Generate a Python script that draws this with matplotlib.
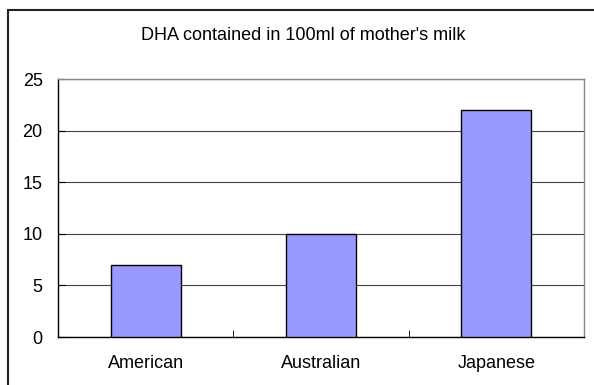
import matplotlib
matplotlib.use("Agg")
import matplotlib.pyplot as plt
from matplotlib.patches import Rectangle

categories = ["American", "Australian", "Japanese"]
values = [7, 10, 22]
yticks = [0, 5, 10, 15, 20, 25]
title = "DHA contained in 100ml of mother's milk"

W, H = 594, 385
plt.rcParams['font.family'] = ['Liberation Sans', 'DejaVu Sans']
fig = plt.figure(figsize=(W / 100, H / 100), dpi=100)

# outer chart border
fig.patches.append(Rectangle((8 / W, -0.05), 1.1, 1 - 10 / H + 0.05,
                             transform=fig.transFigure, fill=False,
                             edgecolor='#222222', linewidth=1.5))

ax = fig.add_axes([58 / W, 1 - 337 / H, (584 - 58) / W, (337 - 79) / H])
x = list(range(len(categories)))
ax.bar(x, values, width=0.4, color='#9999FF', edgecolor='black', linewidth=1.0, zorder=3)
ax.set_xlim(-0.5, len(categories) - 0.5)
ax.set_ylim(0, 25)
ax.set_yticks(yticks)
ax.yaxis.grid(True, color='#444444', linewidth=0.8, zorder=0)
ax.set_axisbelow(True)
ax.set_xticks(x)
ax.set_xticklabels(categories)
ax.set_xticks([0.5, 1.5], minor=True)
ax.tick_params(axis='x', which='major', length=0, pad=13, labelsize=13)
ax.tick_params(axis='x', which='minor', length=5, direction='in', color='black')
ax.tick_params(axis='y', length=5, direction='in', pad=11, labelsize=13)
for s in ['left', 'bottom']:
    ax.spines[s].set_color('black')
    ax.spines[s].set_linewidth(1.0)
for s in ['top', 'right']:
    ax.spines[s].set_color('#888888')
    ax.spines[s].set_linewidth(1.0)

fig.text(303.5 / W, 1 - 40 / H, title, ha='center', va='baseline', fontsize=13)

fig.savefig("out.png", dpi=100)
